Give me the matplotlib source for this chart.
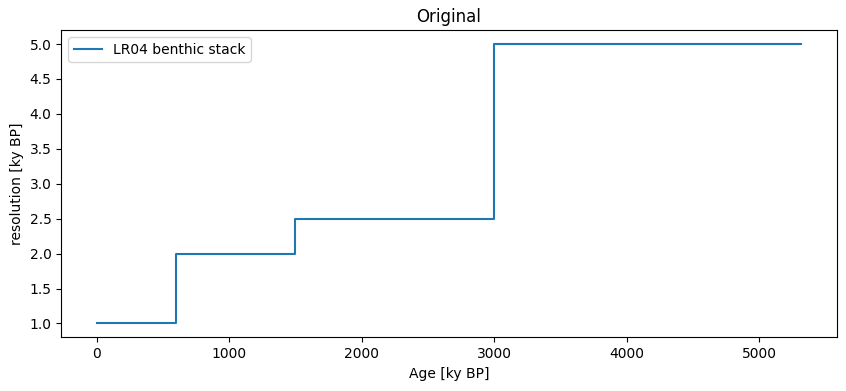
import numpy as np
import matplotlib
matplotlib.use("Agg")
import matplotlib.pyplot as plt

# LR04 sampling resolution by age interval
age_edges = [0, 600, 1500, 3000, 5320]
resolution = [1.0, 2.0, 2.5, 5.0]

x = np.array(age_edges)
y = np.array(resolution + [resolution[-1]])

fig = plt.figure(figsize=(8.46, 3.91), dpi=100)
ax = fig.add_axes([0.0725, 0.137, 0.9165, 0.786])
ax.step(x, y, where="post", label="LR04 benthic stack")
ax.set_xlabel("Age [ky BP]")
ax.set_ylabel("resolution [ky BP]")
ax.set_title("Original")
ax.legend(loc="upper left")

plt.savefig("out.png")
